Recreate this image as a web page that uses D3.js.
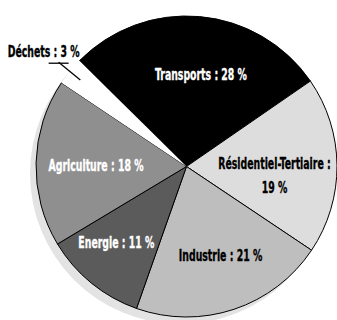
<!DOCTYPE html>
<html>
<head>
<meta charset="utf-8">
<script src="https://cdn.jsdelivr.net/npm/d3@7"></script>
<style>
  html, body { margin: 0; padding: 0; background: #fff; }
  svg { display: block; }
  text { font-family: "Liberation Sans Narrow", "DejaVu Sans Condensed", "Liberation Sans", sans-serif; font-weight: 700; }
</style>
</head>
<body>
<svg id="chart" width="337" height="320"></svg>
<script>
// ---- data ----
const categories = ["Transports", "Résidentiel-Tertiaire", "Industrie", "Energie", "Agriculture", "Déchets"];
const values = [28, 19, 21, 11, 18, 3];
const labelLines = [
  ["Transports : 28 %"],
  ["Résidentiel-Tertiaire :", "19 %"],
  ["Industrie : 21 %"],
  ["Energie : 11 %"],
  ["Agriculture : 18 %"],
  ["Déchets : 3 %"]
];

// ---- styles / layout ----
const fills = ["#000000", "#dddddd", "#bebebe", "#5b5b5b", "#8f8f8f", "#ffffff"];
const textFills = ["#fff", "#000", "#000", "#fff", "#fff", "#000"];
const nudges = [[6.5, 0], [-4, 9.5], [5, 2], [-12, 5], [1.5, 1], [0, 0]];

const W = 337, H = 320;
const cx = 186.5, cy = 166.5, R = 150.5;
const start = -45.4 * Math.PI / 180;

const svg = d3.select("#chart");

// shadow
svg.append("circle")
  .attr("cx", cx - 6).attr("cy", cy + 7).attr("r", R)
  .attr("fill", "#e3e3e3");

const g = svg.append("g").attr("transform", `translate(${cx},${cy})`);

const pie = d3.pie().sort(null).value(d => d.v)
  .startAngle(start).endAngle(start + 2 * Math.PI);
const data = categories.map((c, i) => ({ c, v: values[i], i }));
const arcs = pie(data);
const arc = d3.arc().innerRadius(0).outerRadius(R);

g.selectAll("path.slice")
  .data(arcs)
  .join("path")
  .attr("class", "slice")
  .attr("d", arc)
  .attr("fill", d => fills[d.data.i])
  .attr("stroke", d => d.data.c === "Déchets" ? "none" : "#000")
  .attr("stroke-width", 1)
  .attr("stroke-linejoin", "round");

const fontSize = 16;
const labelArc = d3.arc().innerRadius(92).outerRadius(92);

// condensing factor so the font matches the reference's condensed face
const probe = svg.append("text").attr("font-size", fontSize).text(labelLines[0][0]);
const measured = probe.node().getComputedTextLength();
probe.remove();
const sx = measured > 0 ? Math.min(1, 92 / measured) : 1;

function addLabel(sel, x, y, txt, color) {
  sel.append("text")
    .attr("transform", `translate(${x},${y}) scale(${sx},1)`)
    .attr("text-anchor", "middle")
    .attr("font-size", fontSize)
    .attr("fill", color)
    .attr("stroke", color)
    .attr("stroke-width", 0.35)
    .text(txt);
}

arcs.forEach(d => {
  const i = d.data.i;
  if (d.data.c === "Déchets") return;
  const [x, y] = labelArc.centroid(d);
  const lines = labelLines[i];
  const lh = 24;
  const x0 = x + nudges[i][0];
  const y0 = y + nudges[i][1] - (lines.length - 1) * lh / 2;
  lines.forEach((ln, k) => addLabel(g, x0, y0 + k * lh + 5.5, ln, textFills[i]));
});

// Déchets: external label with leader line
const dd = arcs.find(d => d.data.c === "Déchets");
const mid = (dd.startAngle + dd.endAngle) / 2;
const pInner = [Math.sin(mid) * 137, -Math.cos(mid) * 137];
const pOuter = [Math.sin(mid) * 165, -Math.cos(mid) * 165];
g.append("line")
  .attr("x1", pInner[0]).attr("y1", pInner[1])
  .attr("x2", pOuter[0]).attr("y2", pOuter[1])
  .attr("stroke", "#000").attr("stroke-width", 1.3);
g.append("line")
  .attr("x1", pOuter[0] - 10).attr("y1", pOuter[1] + 1)
  .attr("x2", pOuter[0] + 10).attr("y2", pOuter[1] + 1)
  .attr("stroke", "#000").attr("stroke-width", 1.3);
addLabel(g, pOuter[0] - 15, pOuter[1] - 5, labelLines[5][0], textFills[5]);
</script>
</body>
</html>
